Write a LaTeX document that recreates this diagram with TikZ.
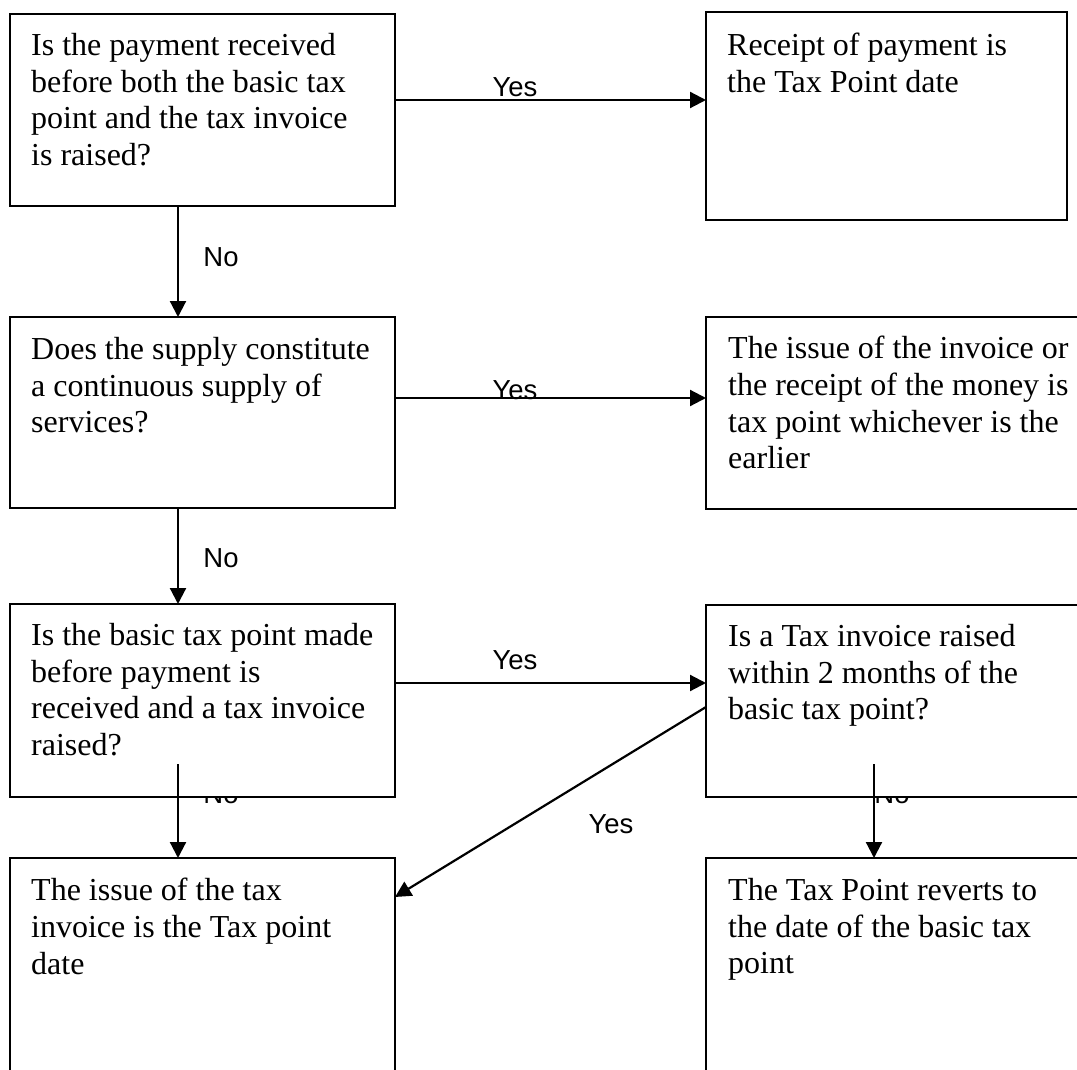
\documentclass[tikz,border=0pt]{standalone}
\usepackage{fontspec}
\setmainfont{Liberation Serif}
\newfontfamily\lblfont{Liberation Sans}
\usetikzlibrary{arrows.meta}
\begin{document}
\begin{tikzpicture}[x=1pt,y=-1pt,
  box/.style={draw, line width=2.2pt, fill=white, rectangle, anchor=north west, inner sep=0pt, outer sep=0pt},
  txt/.style={anchor=north west, align=left, inner sep=0pt, font=\fontsize{32}{36.7}\selectfont},
  lbl/.style={anchor=base, inner sep=0pt, font=\lblfont\fontsize{27.5}{30}\selectfont},
  conn/.style={line width=2.2pt, -{Triangle[length=16pt,width=16pt]}}]
\useasboundingbox (0,0) rectangle (1077,1070);
\fill[white] (0,0) rectangle (1077,1070);
\clip (0,0) rectangle (1077,1070);

% coordinates for connector positions
\coordinate (yAB) at (0,100);
\coordinate (yCD) at (0,398);
\coordinate (yEF) at (0,683);
\coordinate (yFd) at (0,707);
\coordinate (yGd) at (0,897);
\coordinate (xL) at (178,0);
\coordinate (eS) at (178,764);
\coordinate (fS) at (874,764);

% boxes
\node[box, minimum width=385pt, minimum height=192pt] (A) at (10,14) {};
\node[box, minimum width=361pt, minimum height=208pt] (B) at (706,12) {};
\node[box, minimum width=385pt, minimum height=191pt] (C) at (10,317) {};
\node[box, minimum width=400pt, minimum height=192pt] (D) at (706,317) {};

% labels hidden behind boxes E and F
\node[lbl] (no3) at (221,803) {No};
\node[lbl] (no4) at (892,803) {No};

\node[box, minimum width=385pt, minimum height=193pt] (E) at (10,604) {};
\node[box, minimum width=400pt, minimum height=192pt] (F) at (706,605) {};
\node[box, minimum width=385pt, minimum height=260pt] (G) at (10,858) {};
\node[box, minimum width=400pt, minimum height=260pt] (H) at (706,858) {};

% texts
\node[txt] (At) at (31,33) {Is the payment received\\before both the basic tax\\point and the tax invoice\\is raised?};
\node[txt] (Bt) at (727,33) {Receipt of payment is\\the Tax Point date};
\node[txt] (Ct) at (31,337) {Does the supply constitute\\a continuous supply of\\services?};
\node[txt] (Dt) at (728,336) {The issue of the invoice or\\the receipt of the money is\\tax point whichever is the\\earlier};
\node[txt] (Et) at (31,623) {Is the basic tax point made\\before payment is\\received and a tax invoice\\raised?};
\node[txt] (Ft) at (728,624) {Is a Tax invoice raised\\within 2 months of the\\basic tax point?};
\node[txt] (Gt) at (31,878) {The issue of the tax\\invoice is the Tax point\\date};
\node[txt] (Ht) at (728,878) {The Tax Point reverts to\\the date of the basic tax\\point};

% connectors
\draw[conn] (A.east |- yAB) -- (B.west |- yAB);
\draw[conn] (C.east |- yCD) -- (D.west |- yCD);
\draw[conn] (E.east |- yEF) -- (F.west |- yEF);
\draw[conn] (A.south -| xL) -- (C.north -| xL);
\draw[conn] (C.south -| xL) -- (E.north -| xL);
\draw[conn] (eS) -- (G.north -| eS);
\draw[conn] (fS) -- (H.north -| fS);
\draw[conn] (F.west |- yFd) -- (G.east |- yGd);

% visible labels
\node[lbl] (yes1) at (515,97) {Yes};
\node[lbl] (yes2) at (515,399) {Yes};
\node[lbl] (yes3) at (515,669) {Yes};
\node[lbl] (yes4) at (611,833) {Yes};
\node[lbl] (no1) at (221,266) {No};
\node[lbl] (no2) at (221,567) {No};
\end{tikzpicture}
\end{document}
